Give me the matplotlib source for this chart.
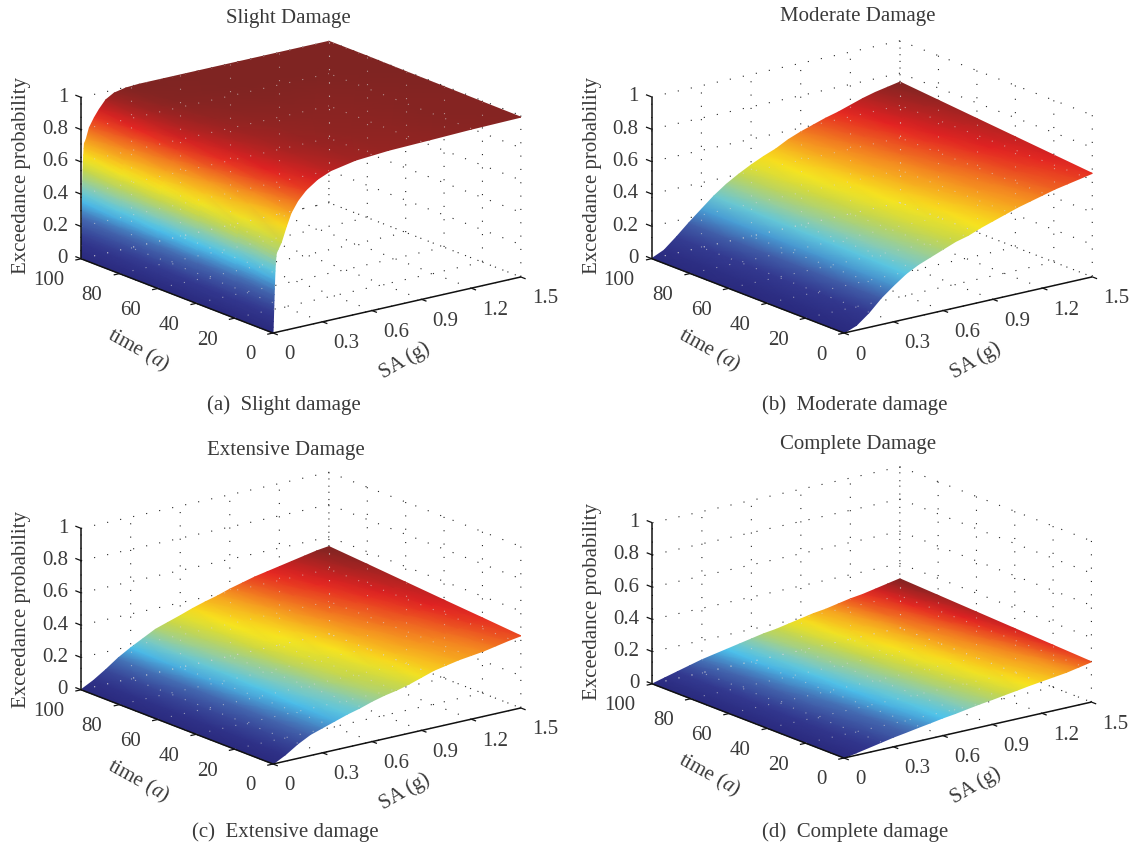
import matplotlib
matplotlib.use('Agg')
import matplotlib.pyplot as plt
from matplotlib.colors import LinearSegmentedColormap
from matplotlib.patches import Polygon
from mpl_toolkits.mplot3d import proj3d
import numpy as np

plt.rcParams['font.family'] = ['Liberation Serif', 'DejaVu Serif']
plt.rcParams['mathtext.fontset'] = 'custom'
plt.rcParams['mathtext.it'] = 'Liberation Serif:italic'
plt.rcParams['mathtext.rm'] = 'Liberation Serif'

W, H = 1135, 848
DPI = 100
TXT = '#3a3a3a'
LINE = '#111111'

time_a = [0, 20, 40, 60, 80, 100]
time_tick_labels = ['0', '20', '40', '60', '80', '100']
sa_ticks = [0, 0.3, 0.6, 0.9, 1.2, 1.5]
sa_tick_labels = ['0', '0.3', '0.6', '0.9', '1.2', '1.5']
z_ticks = [0, 0.2, 0.4, 0.6, 0.8, 1]
z_tick_labels = ['0', '0.2', '0.4', '0.6', '0.8', '1']

# slight damage has a steep wall near SA = 0 so its grid is denser there
sa_slight = [0, .001, .002, .003, .004, .005, .006, .007, .008, .009, .01, .012, .014, .016, .018, .02,
             .03, .05, .08, .11, .15, .2, .27, .35, .5, .7, .95, 1.2, 1.5]
sa_grid = [0, .075, .15, .225, .3, .375, .45, .525, .6, .675, .75, .825, .9, .975, 1.05, 1.125, 1.2, 1.275, 1.35, 1.425, 1.5]

slight = [
    [0, .035, .07, .10, .135, .17, .20, .235, .27, .30, .33, .38, .42, .45, .47, .49, .51, .55, .64, .72, .785, .84, .89, .925, .955, .97, .977, .985, .99],
    [0, .039, .078, .113, .151, .19, .225, .264, .303, .335, .368, .423, .465, .50, .52, .545, .565, .61, .695, .765, .825, .875, .915, .944, .966, .978, .983, .989, .992],
    [0, .042, .084, .12, .165, .208, .247, .29, .33, .366, .40, .46, .505, .54, .57, .60, .615, .67, .74, .805, .86, .905, .94, .96, .976, .984, .988, .992, .995],
    [0, .045, .09, .13, .177, .22, .265, .31, .355, .39, .43, .49, .54, .58, .61, .64, .66, .72, .78, .84, .895, .935, .96, .975, .985, .99, .992, .995, .997],
    [0, .048, .095, .142, .19, .235, .285, .33, .38, .415, .455, .52, .57, .61, .645, .675, .70, .76, .82, .87, .925, .96, .98, .99, .995, .997, .998, .999, 1],
    [0, .05, .10, .15, .20, .25, .30, .35, .40, .44, .48, .55, .60, .64, .68, .71, .73, .80, .855, .90, .95, .98, .995, 1, 1, 1, 1, 1, 1],
]
moderate = [
    [0, .03, .09, .165, .225, .28, .32, .35, .38, .41, .43, .46, .485, .51, .535, .555, .575, .595, .61, .625, .64],
    [0, .031, .092, .166, .227, .284, .327, .36, .392, .423, .445, .477, .503, .528, .553, .573, .594, .615, .631, .646, .661],
    [0, .032, .094, .167, .229, .288, .334, .37, .404, .436, .46, .494, .521, .546, .571, .591, .613, .635, .652, .667, .682],
    [0, .033, .096, .168, .231, .292, .341, .38, .416, .449, .475, .511, .539, .564, .589, .609, .632, .655, .673, .688, .703],
    [0, .034, .098, .169, .233, .296, .348, .39, .428, .462, .49, .528, .557, .582, .607, .627, .651, .675, .694, .709, .724],
    [0, .035, .10, .17, .235, .30, .355, .40, .44, .475, .505, .545, .575, .60, .625, .645, .67, .695, .715, .73, .745],
]
extensive = [
    [0, .04, .09, .13, .155, .18, .205, .225, .25, .27, .285, .305, .33, .355, .37, .385, .395, .405, .42, .435, .447],
    [0, .04, .09, .133, .162, .19, .218, .239, .268, .292, .302, .322, .347, .371, .387, .402, .413, .424, .439, .454, .466],
    [0, .04, .09, .136, .169, .20, .231, .253, .283, .31, .319, .339, .364, .387, .404, .419, .431, .443, .458, .473, .484],
    [0, .04, .09, .139, .176, .21, .244, .267, .30, .325, .336, .356, .381, .403, .421, .436, .449, .462, .477, .492, .503],
    [0, .04, .09, .142, .183, .22, .257, .281, .31, .336, .353, .373, .398, .419, .438, .453, .467, .481, .496, .511, .522],
    [0, .04, .09, .145, .19, .23, .27, .295, .32, .347, .37, .39, .415, .435, .455, .47, .485, .50, .515, .53, .54],
]
complete = [
    [0, .015, .03, .045, .06, .072, .085, .097, .11, .12, .133, .145, .155, .167, .178, .19, .20, .21, .22, .235, .25],
    [0, .016, .032, .048, .064, .077, .09, .103, .116, .127, .139, .152, .163, .176, .186, .199, .21, .22, .231, .246, .261],
    [0, .017, .034, .051, .068, .081, .095, .108, .122, .134, .146, .159, .171, .184, .195, .208, .22, .23, .242, .257, .272],
    [0, .018, .036, .054, .072, .086, .1, .114, .128, .141, .152, .166, .179, .193, .203, .216, .23, .24, .253, .268, .283],
    [0, .019, .038, .057, .076, .09, .105, .12, .134, .148, .159, .173, .187, .202, .212, .225, .24, .25, .264, .279, .294],
    [0, .02, .04, .06, .08, .095, .11, .125, .14, .155, .165, .18, .195, .21, .22, .235, .25, .26, .275, .29, .305],
]

titles = ['Slight Damage', 'Moderate Damage', 'Extensive Damage', 'Complete Damage']
captions = ['(a)  Slight damage', '(b)  Moderate damage', '(c)  Extensive damage', '(d)  Complete damage']
surfaces = [(sa_slight, slight), (sa_grid, moderate), (sa_grid, extensive), (sa_grid, complete)]

# pixel layout of each panel, measured on the reference
left_corner = [(81, 259), (652, 258), (81, 690), (652, 685)]
front_corner = [(273, 333), (844, 333), (273, 764), (844, 758)]
title_xy = [(288, 19), (858, 17), (286, 450), (858, 444)]
caption_xy = [(284, 405), (855, 405), (285, 832), (855, 832)]
ylabel_xy = [(22, 175), (592, 175), (22, 609), (592, 601)]

BOX = (312, 316, 169)
ELEV, AZIM = 17.2, -127.4

jet_print = LinearSegmentedColormap.from_list('jet_print', [
    (0.0, '#2a2a7e'), (0.12, '#33388f'), (0.25, '#4468b0'), (0.36, '#4cc3ee'),
    (0.44, '#86cbb8'), (0.55, '#c9d748'), (0.625, '#f8e61e'), (0.75, '#f58f20'), (0.875, '#e42222'),
    (1.0, '#7f2422')])


def to_px(ax, x, y, z):
    px, py, _ = proj3d.proj_transform(x, y, z, ax.get_proj())
    return ax.transData.transform(np.column_stack([np.ravel(px), np.ravel(py)]))


def place_box(ax, left, front):
    # scale and shift the axes so the floor corners land on the measured pixels
    ax.set_box_aspect(BOX, zoom=1)
    ax.apply_aspect()
    a = to_px(ax, 0, 100, 0)[0]
    b = to_px(ax, 0, 0, 0)[0]
    want = np.hypot(front[0] - left[0], front[1] - left[1])
    ax.set_box_aspect(BOX, zoom=want / np.hypot(*(b - a)))
    ax.apply_aspect()
    b = to_px(ax, 0, 0, 0)[0]
    pos = ax.get_position(original=True)
    ax.set_position([pos.x0 + (front[0] - b[0]) / W, pos.y0 + ((H - front[1]) - b[1]) / H, pos.width, pos.height])
    ax.apply_aspect()


def seg(ax, over, x, y, z, lw):
    p = to_px(ax, np.array(x), np.array(y), np.array(z))
    over.plot(p[:, 0], p[:, 1], color=LINE, lw=lw, solid_capstyle='butt', zorder=3)


def ghost(ax, over, x, y, z, clip):
    # the grid dots that show faintly through the surface in the reference
    p = to_px(ax, np.array(x), np.array(y), np.array(z))
    ln, = over.plot(p[:, 0], p[:, 1], color='#d8d8d8', lw=0.8, alpha=0.6, linestyle=(0, (1, 11)), zorder=2)
    ln.set_clip_path(clip)


def label(ax, over, x, y, z, s, dx, dy, ha):
    p = to_px(ax, x, y, z)[0]
    over.text(p[0] + dx, p[1] - dy, s, color=TXT, fontsize=15, ha=ha, va='center')


fig = plt.figure(figsize=(W / DPI, H / DPI), dpi=DPI)

# flat layer in figure pixels above the dotted 3D boxes: the surfaces are
# shaded here because mplot3d has no smooth (gouraud) facets
over = fig.add_axes([0, 0, 1, 1], zorder=2)
over.set_xlim(0, W)
over.set_ylim(0, H)
over.axis('off')
over.patch.set_alpha(0)

for i in range(4):
    ax = fig.add_axes([0.1, 0.1, 420 / W, 420 / H], projection='3d', proj_type='ortho', zorder=1)
    ax.patch.set_alpha(0)
    ax.view_init(elev=ELEV, azim=AZIM)
    ax.set_xlim(0, 1.5)
    ax.set_ylim(0, 100)
    ax.set_zlim(0, 1)
    ax.set_xticks(sa_ticks)
    ax.set_yticks(time_a)
    ax.set_zticks(z_ticks)
    ax.set_xticklabels([])
    ax.set_yticklabels([])
    ax.set_zticklabels([])
    for axis in (ax.xaxis, ax.yaxis, ax.zaxis):
        axis.pane.set_visible(False)
        axis.line.set_color('none')
        axis._axinfo['tick']['inward_factor'] = 0
        axis._axinfo['tick']['outward_factor'] = 0
        axis._axinfo['grid'].update(color='#222222', linewidth=0.8, linestyle=(0, (1, 11)))

    place_box(ax, left_corner[i], front_corner[i])

    sa, z = surfaces[i]
    X, Y = np.meshgrid(sa, time_a)
    Z = np.array(z)
    P = to_px(ax, X.ravel(), Y.ravel(), Z.ravel())
    PX = P[:, 0].reshape(X.shape)
    PY = P[:, 1].reshape(X.shape)
    over.pcolormesh(PX, PY, Z, shading='gouraud', cmap=jet_print, vmin=0, vmax=Z.max(), zorder=1)

    edge = np.vstack([
        np.column_stack([PX[0], PY[0]]),
        np.column_stack([PX[:, -1], PY[:, -1]]),
        np.column_stack([PX[-1][::-1], PY[-1][::-1]]),
        np.column_stack([PX[:, 0][::-1], PY[:, 0][::-1]]),
    ])
    clip = Polygon(edge, transform=over.transData)
    for s in sa_ticks:
        ghost(ax, over, [s, s], [0, 100], [0, 0], clip)
        ghost(ax, over, [s, s], [100, 100], [0, 1], clip)
    for t in time_a:
        ghost(ax, over, [0, 1.5], [t, t], [0, 0], clip)
        ghost(ax, over, [1.5, 1.5], [t, t], [0, 1], clip)
    for v in z_ticks:
        ghost(ax, over, [1.5, 1.5], [0, 100], [v, v], clip)
        ghost(ax, over, [0, 1.5], [100, 100], [v, v], clip)

    # axis lines and ticks
    seg(ax, over, [0, 0], [0, 100], [0, 0], 1.1)
    seg(ax, over, [0, 1.5], [0, 0], [0, 0], 1.1)
    seg(ax, over, [0, 0], [100, 100], [0, 1], 1.1)
    for t in time_a:
        seg(ax, over, [0, -0.035], [t, t], [0, 0], 0.9)
    for s in sa_ticks:
        seg(ax, over, [s, s], [0, -2.5], [0, 0], 0.9)
    for v in z_ticks:
        seg(ax, over, [0, 0], [100, 103], [v, v], 0.9)

    for t, s in zip(time_a, time_tick_labels):
        label(ax, over, 0, t, 0, s, -17, 22, 'right')
    for v, s in zip(sa_ticks, sa_tick_labels):
        label(ax, over, v, 0, 0, s, 11, 22, 'left')
    for v, s in zip(z_ticks, z_tick_labels):
        label(ax, over, 0, 100, v, s, -13, 0, 'right')

    fx, fy = front_corner[i]
    fig.text((fx - 135) / W, 1 - (fy + 17) / H, 'time $\\mathit{(a)}$', rotation=-29, color=TXT, fontsize=15,
             ha='center', va='center')
    fig.text((fx + 132) / W, 1 - (fy + 28) / H, 'SA (g)', rotation=30, color=TXT, fontsize=15,
             ha='center', va='center')
    fig.text(ylabel_xy[i][0] / W, 1 - ylabel_xy[i][1] / H, 'Exceedance probability', rotation=90, color=TXT,
             fontsize=15, ha='center', va='center')
    fig.text(title_xy[i][0] / W, 1 - title_xy[i][1] / H, titles[i], color=TXT, fontsize=15, ha='center', va='center')
    fig.text(caption_xy[i][0] / W, 1 - caption_xy[i][1] / H, captions[i], color=TXT, fontsize=15, ha='center', va='center')

fig.savefig('out.png', dpi=DPI)
